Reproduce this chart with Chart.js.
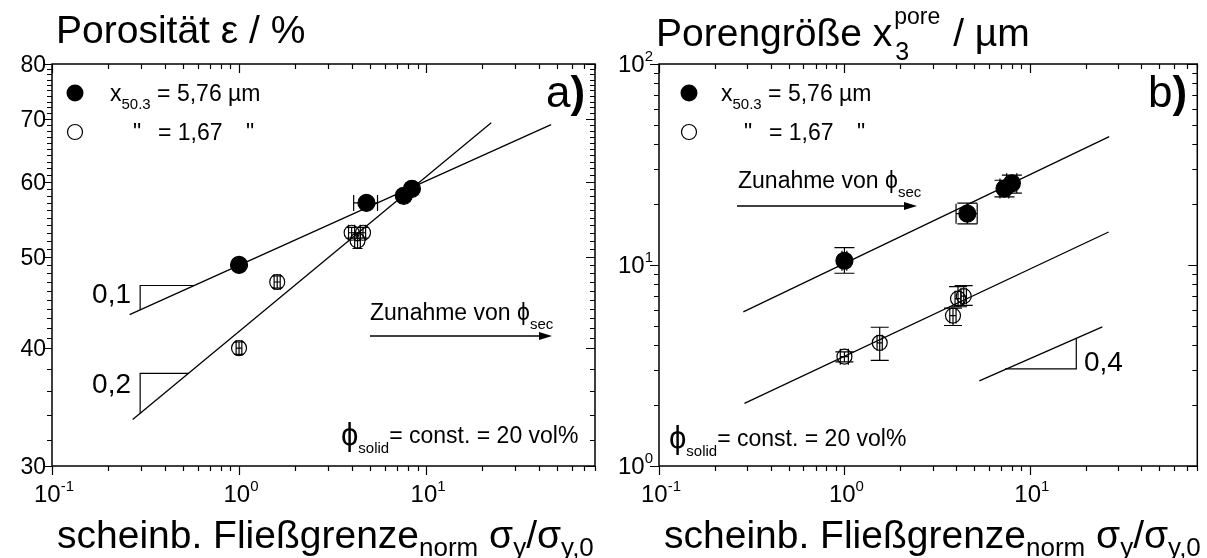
<!DOCTYPE html>
<html>
<head>
<meta charset="utf-8">
<script src="https://cdn.jsdelivr.net/npm/chart.js@4.4.1/dist/chart.umd.min.js"></script>
<style>
  html, body { margin: 0; padding: 0; background: #fff; }
  #wrap { position: relative; width: 1207px; height: 558px; }
  #wrap canvas { position: absolute; left: 0; top: 0; }
</style>
</head>
<body>
<div id="wrap">
  <canvas id="poro" width="1207" height="558"></canvas>
  <canvas id="pore" width="1207" height="558"></canvas>
</div>
<script>
// x axis: normalised apparent yield stress (log)
const xMajor = [0.1, 1, 10];
const xMajorExp = ['-1', '0', '1'];

// a) porosity, coarse powder (x50.3 = 5,76 µm) and fine powder (1,67 µm)
const poroCoarseX = [1.0, 4.8, 7.6, 8.4];
const poroCoarseY = [49.0, 57.0, 58.0, 59.0];
const poroCoarseXErr = [[0.965, 1.035], [4.1, 5.5], [7.25, 7.95], [8.05, 8.75]];
const poroCoarseYErr = [[48.3, 49.8], [56.4, 57.6], [57.3, 58.7], [58.4, 59.6]];
const poroFineX = [1.0, 1.6, 4.0, 4.3, 4.6];
const poroFineY = [40.0, 47.0, 53.0, 52.0, 53.0];
const poroFineXErr = [[0.965, 1.035], [1.54, 1.66], [3.85, 4.15], [4.15, 4.45], [4.45, 4.75]];
const poroFineYErr = [[39.4, 40.6], [46.3, 47.7], [52.3, 53.7], [51.0, 53.0], [52.3, 53.7]];
// a) power-law fits and slope markers
const poroFitCoarseX = [0.26, 46.6];
const poroFitCoarseY = [43.4, 69.0];
const poroFitFineX = [0.27, 22.3];
const poroFitFineY = [33.6, 69.3];
const poroSlope1X = [0.296, 0.296, 0.575];
const poroSlope1Y = [43.9, 46.6, 46.6];
const poroSlope2X = [0.296, 0.296, 0.54];
const poroSlope2Y = [34.1, 37.6, 37.6];
const poroTicks = [30, 40, 50, 60, 70, 80];

// b) pore size
const poreCoarseX = [1.0, 4.6, 7.3, 8.0];
const poreCoarseY = [10.5, 18.0, 24.0, 25.5];
const poreCoarseXErr = [[0.97, 1.03], [4.0, 5.2], [6.9, 7.7], [7.5, 8.5]];
const poreCoarseYErr = [[9.1, 12.2], [16.0, 20.3], [21.8, 26.4], [22.8, 28.0]];
const poreFineX = [1.0, 1.55, 3.85, 4.1, 4.4];
const poreFineY = [3.5, 4.1, 5.6, 6.8, 7.0];
const poreFineXErr = [[0.95, 1.05], [1.5, 1.6], [3.7, 4.0], [3.95, 4.25], [4.25, 4.55]];
const poreFineYErr = [[3.3, 3.7], [3.35, 4.9], [5.0, 6.1], [6.2, 7.8], [6.3, 7.9]];
const poreFitCoarseX = [0.285, 26.8];
const poreFitCoarseY = [5.84, 43.5];
const poreFitFineX = [0.289, 26.6];
const poreFitFineY = [2.05, 14.6];
const poreSlopeLineX = [5.34, 24.6];
const poreSlopeLineY = [2.65, 4.92];
const poreSlopeX = [7.35, 17.8, 17.8];
const poreSlopeY = [3.04, 3.04, 4.31];
const poreMajor = [1, 10, 100];
const poreMajorExp = ['0', '1', '2'];

// minor ticks
const xMinor = [];
[0.1, 1, 10].forEach(d => { for (let k = 2; k <= 9; k++) if (d * k <= 80) xMinor.push(d * k); });
const poroMinor = [];
for (let v = 32; v < 40; v += 2) poroMinor.push(v);
for (let v = 41; v < 80; v++) if (v % 10) poroMinor.push(v);
const poreMinor = [];
[1, 10].forEach(d => { for (let k = 2; k <= 9; k++) poreMinor.push(d * k); });

const FONT = '"Liberation Sans", Arial, Helvetica, sans-serif';

function setFont(ctx, size, bold) {
  ctx.font = (bold ? 'bold ' : '') + size + 'px ' + FONT;
}

// parts: [text, size, dy, bold]
function rich(ctx, x, y, parts, align) {
  let w = 0;
  const ws = parts.map(p => { setFont(ctx, p[1], p[3]); const m = ctx.measureText(p[0]).width; w += m; return m; });
  let cx = align === 'right' ? x - w : align === 'center' ? x - w / 2 : x;
  parts.forEach((p, i) => {
    setFont(ctx, p[1], p[3]);
    ctx.fillText(p[0], cx, y + (p[2] || 0));
    cx += ws[i];
  });
  return cx;
}

function arrow(ctx, x0, x1, y) {
  ctx.beginPath();
  ctx.moveTo(x0, y); ctx.lineTo(x1 - 10, y);
  ctx.stroke();
  ctx.beginPath();
  ctx.moveTo(x1, y); ctx.lineTo(x1 - 13, y - 4); ctx.lineTo(x1 - 13, y + 4);
  ctx.closePath(); ctx.fill();
}

function xy(xs, ys) { return xs.map((x, i) => ({ x, y: ys[i] })); }

function points(xs, ys, filled, xErr, yErr, capX, capY) {
  return {
    data: xy(xs, ys), showLine: false,
    pointRadius: filled ? 8.5 : 7.5,
    pointBackgroundColor: filled ? '#000' : 'rgba(0,0,0,0)',
    pointBorderColor: '#000', pointBorderWidth: 1.2,
    xErr, yErr, capX, capY
  };
}

function line(xs, ys, w) {
  return {
    data: xy(xs, ys), showLine: true, pointRadius: 0,
    borderColor: '#000', borderWidth: w || 1.3, tension: 0, fill: false
  };
}

// error bars for any dataset carrying xErr / yErr
const errorBars = {
  id: 'errorBars',
  afterDatasetsDraw(chart) {
    const { ctx, scales: { x, y } } = chart;
    ctx.save();
    ctx.strokeStyle = '#000';
    ctx.lineWidth = 1.2;
    chart.data.datasets.forEach(ds => {
      if (!ds.xErr) return;
      ds.data.forEach((p, i) => {
        const px = x.getPixelForValue(p.x), py = y.getPixelForValue(p.y);
        const [xl, xh] = ds.xErr[i].map(v => x.getPixelForValue(v));
        const [yl, yh] = ds.yErr[i].map(v => y.getPixelForValue(v));
        ctx.beginPath();
        ctx.moveTo(xl, py); ctx.lineTo(xh, py);
        ctx.moveTo(xl, py - ds.capX); ctx.lineTo(xl, py + ds.capX);
        ctx.moveTo(xh, py - ds.capX); ctx.lineTo(xh, py + ds.capX);
        ctx.moveTo(px, yl); ctx.lineTo(px, yh);
        ctx.moveTo(px - ds.capY, yl); ctx.lineTo(px + ds.capY, yl);
        ctx.moveTo(px - ds.capY, yh); ctx.lineTo(px + ds.capY, yh);
        ctx.stroke();
      });
    });
    ctx.restore();
  }
};

// box, ticks and tick labels
function drawFrame(chart, yMajor, yMinor, yLabel) {
  const { ctx, chartArea: a, scales: { x, y } } = chart;
  ctx.save();
  ctx.strokeStyle = '#000';
  ctx.fillStyle = '#000';
  ctx.lineWidth = 1.5;
  ctx.strokeRect(a.left, a.top, a.right - a.left, a.bottom - a.top);
  ctx.lineWidth = 1.2;
  ctx.beginPath();
  const xt = (v, len) => {
    const p = Math.round(x.getPixelForValue(v)) + 0.5;
    ctx.moveTo(p, a.bottom); ctx.lineTo(p, a.bottom + len);
    ctx.moveTo(p, a.top); ctx.lineTo(p, a.top + len);
  };
  const yt = (v, len) => {
    const p = Math.round(y.getPixelForValue(v)) + 0.5;
    ctx.moveTo(a.left, p); ctx.lineTo(a.left - len, p);
    ctx.moveTo(a.right, p); ctx.lineTo(a.right - len, p);
  };
  xMajor.forEach(v => xt(v, 9));
  xMinor.forEach(v => xt(v, 5));
  yMajor.forEach(v => yt(v, 9));
  yMinor.forEach(v => yt(v, 5));
  ctx.stroke();

  ctx.textBaseline = 'alphabetic';
  xMajor.forEach((v, i) => {
    rich(ctx, x.getPixelForValue(v) + 2, a.bottom + 36, [['10', 24], [xMajorExp[i], 15, -11]], 'center');
  });
  yMajor.forEach((v, i) => {
    rich(ctx, a.left - 6, y.getPixelForValue(v) + 8, yLabel(v, i), 'right');
  });

  // shared x-axis title
  rich(ctx, a.left + 5, 548, [
    ['scheinb. Fließgrenze', 39], ['norm', 26, 8], [' σ', 39], ['y', 26, 8],
    ['/σ', 39], ['y,0', 26, 8]
  ]);
  ctx.restore();
}

function legend(ctx, cx, tx) {
  ctx.beginPath(); ctx.arc(cx, 93, 8.5, 0, Math.PI * 2); ctx.fill();
  ctx.beginPath(); ctx.arc(cx, 132, 7.5, 0, Math.PI * 2); ctx.lineWidth = 1.2; ctx.stroke();
  rich(ctx, tx, 101, [['x', 23], ['50.3', 15, 8], [' = 5,76 µm', 23]]);
  rich(ctx, tx + 23, 140, [['"', 23]]);
  rich(ctx, tx + 48, 140, [['= 1,67', 23]]);
  rich(ctx, tx + 136, 140, [['"', 23]]);
}

const poroDeco = {
  id: 'poroDeco',
  afterDraw(chart) {
    const ctx = chart.ctx;
    drawFrame(chart, poroTicks, poroMinor, v => [[String(v), 23]]);
    ctx.save();
    ctx.fillStyle = '#000'; ctx.strokeStyle = '#000';
    rich(ctx, 56, 43, [['Porosität ε / %', 39]]);
    legend(ctx, 75, 110);
    rich(ctx, 546, 107, [['a', 44], [')', 44, 0, true]]);
    rich(ctx, 131, 303, [['0,1', 28]], 'right');
    rich(ctx, 131, 393, [['0,2', 28]], 'right');
    rich(ctx, 370, 320, [['Zunahme von ϕ', 23], ['sec', 15, 9]]);
    ctx.lineWidth = 1.3;
    arrow(ctx, 370, 552, 336);
    rich(ctx, 341, 445, [['ϕ', 31], ['solid', 15, 8], ['= const. = 20 vol%', 23, -2]]);
    ctx.restore();
  }
};

const poreDeco = {
  id: 'poreDeco',
  afterDraw(chart) {
    const ctx = chart.ctx;
    drawFrame(chart, poreMajor, poreMinor, (v, i) => [['10', 24], [poreMajorExp[i], 15, -11]]);
    ctx.save();
    ctx.fillStyle = '#000'; ctx.strokeStyle = '#000';
    const cx = rich(ctx, 656, 46, [['Porengröße x', 39]]);
    setFont(ctx, 23);
    ctx.fillText('pore', cx + 2, 24);
    const pw = ctx.measureText('pore').width;
    setFont(ctx, 25);
    ctx.fillText('3', cx + 3, 60);
    rich(ctx, cx + pw + 4, 46, [[' / µm', 39]]);
    legend(ctx, 689, 721);
    rich(ctx, 1148, 107, [['b', 44], [')', 44, 0, true]]);
    rich(ctx, 1084, 371, [['0,4', 28]]);
    rich(ctx, 738, 188, [['Zunahme von ϕ', 23], ['sec', 15, 9]]);
    ctx.lineWidth = 1.3;
    arrow(ctx, 737, 917, 206);
    rich(ctx, 669, 448, [['ϕ', 31], ['solid', 15, 8], ['= const. = 20 vol%', 23, -2]]);
    ctx.restore();
  }
};

function panel(id, pad, yMin, yMax, datasets, deco) {
  return new Chart(document.getElementById(id), {
    type: 'scatter',
    data: { datasets },
    options: {
      responsive: false,
      animation: false,
      events: [],
      layout: { padding: pad },
      plugins: { legend: { display: false }, tooltip: { enabled: false } },
      scales: {
        x: { type: 'logarithmic', min: 0.1, max: 80, display: false },
        y: { type: 'logarithmic', min: yMin, max: yMax, display: false }
      }
    },
    plugins: [errorBars, deco]
  });
}

panel('poro', { left: 52, right: 612, top: 64, bottom: 92 }, 30, 80, [
  line(poroFitCoarseX, poroFitCoarseY),
  line(poroFitFineX, poroFitFineY),
  line(poroSlope1X, poroSlope1Y, 1.2),
  line(poroSlope2X, poroSlope2Y, 1.2),
  points(poroCoarseX, poroCoarseY, true, poroCoarseXErr, poroCoarseYErr, 8, 5),
  points(poroFineX, poroFineY, false, poroFineXErr, poroFineYErr, 8, 5)
], poroDeco);

panel('pore', { left: 659, right: 5, top: 64, bottom: 92 }, 1, 100, [
  line(poreFitCoarseX, poreFitCoarseY),
  line(poreFitFineX, poreFitFineY),
  line(poreSlopeLineX, poreSlopeLineY),
  line(poreSlopeX, poreSlopeY, 1.2),
  points(poreCoarseX, poreCoarseY, true, poreCoarseXErr, poreCoarseYErr, 10, 10),
  points(poreFineX, poreFineY, false, poreFineXErr, poreFineYErr, 8, 9)
], poreDeco);
</script>
</body>
</html>
